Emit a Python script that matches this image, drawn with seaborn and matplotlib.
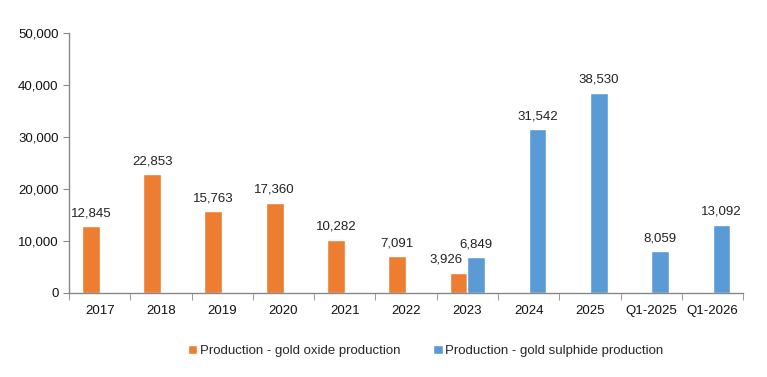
import numpy as np
import pandas as pd
import seaborn as sns
import matplotlib.pyplot as plt
from matplotlib.ticker import FuncFormatter, FixedLocator

periods = ["2017", "2018", "2019", "2020", "2021", "2022", "2023",
           "2024", "2025", "Q1-2025", "Q1-2026"]
oxide = [12845, 22853, 15763, 17360, 10282, 7091, 3926,
         None, None, None, None]
sulphide = [None, None, None, None, None, None, 6849,
            31542, 38530, 8059, 13092]

lbl_oxide = "Production - gold oxide production"
lbl_sulph = "Production - gold sulphide production"

rows = []
for p, v in zip(periods, oxide):
    if v is not None:
        rows.append({"period": p, "series": lbl_oxide, "value": v})
for p, v in zip(periods, sulphide):
    if v is not None:
        rows.append({"period": p, "series": lbl_sulph, "value": v})
df = pd.DataFrame(rows)

sns.set_style("white")
plt.rcParams["font.family"] = ["Liberation Sans", "DejaVu Sans"]
plt.rcParams["font.size"] = 9.5

fig = plt.figure(figsize=(7.67, 3.77), dpi=100)
ax = fig.add_axes([0.09, 0.223, 0.879, 0.689])

sns.barplot(data=df, x="period", y="value", hue="series", order=periods,
            hue_order=[lbl_oxide, lbl_sulph],
            palette=["#ED7D31", "#5B9BD5"], width=0.58, gap=0,
            saturation=1, ax=ax)

for c in ax.containers:
    anns = ax.bar_label(c, labels=[f"{v:,.0f}" for v in c.datavalues],
                        padding=5, fontsize=9.5, color="#222222")
    # the 2023 oxide label sits to the left so it clears the sulphide one
    for a, v in zip(anns, c.datavalues):
        if v == 3926:
            a.xyann = (-9, 5)

ax.set_ylim(0, 50000)
ax.set_xlim(-0.5, len(periods) - 0.5)
ax.set_yticks(np.arange(0, 50001, 10000))
ax.yaxis.set_major_formatter(FuncFormatter(lambda v, _: f"{v:,.0f}"))
ax.set_xlabel("")
ax.set_ylabel("")

for s in ["top", "right"]:
    ax.spines[s].set_visible(False)
for s in ["left", "bottom"]:
    ax.spines[s].set_color("#888888")
    ax.spines[s].set_linewidth(1)

ax.tick_params(axis="y", left=True, length=4, color="#888888",
               labelcolor="#111111", labelsize=9.5)
ax.tick_params(axis="x", which="major", bottom=False,
               labelcolor="#111111", labelsize=9.5, pad=5)
ax.xaxis.set_minor_locator(FixedLocator(np.arange(-0.5, len(periods), 1)))
ax.tick_params(axis="x", which="minor", bottom=True, length=5,
               color="#888888")

ax.legend(loc="center", bbox_to_anchor=(0.529, -0.225), ncol=2,
          frameon=False, fontsize=9.5, handlelength=0.7, handleheight=0.7,
          handletextpad=0.2, columnspacing=2.5)

fig.savefig("out.png", dpi=100)
